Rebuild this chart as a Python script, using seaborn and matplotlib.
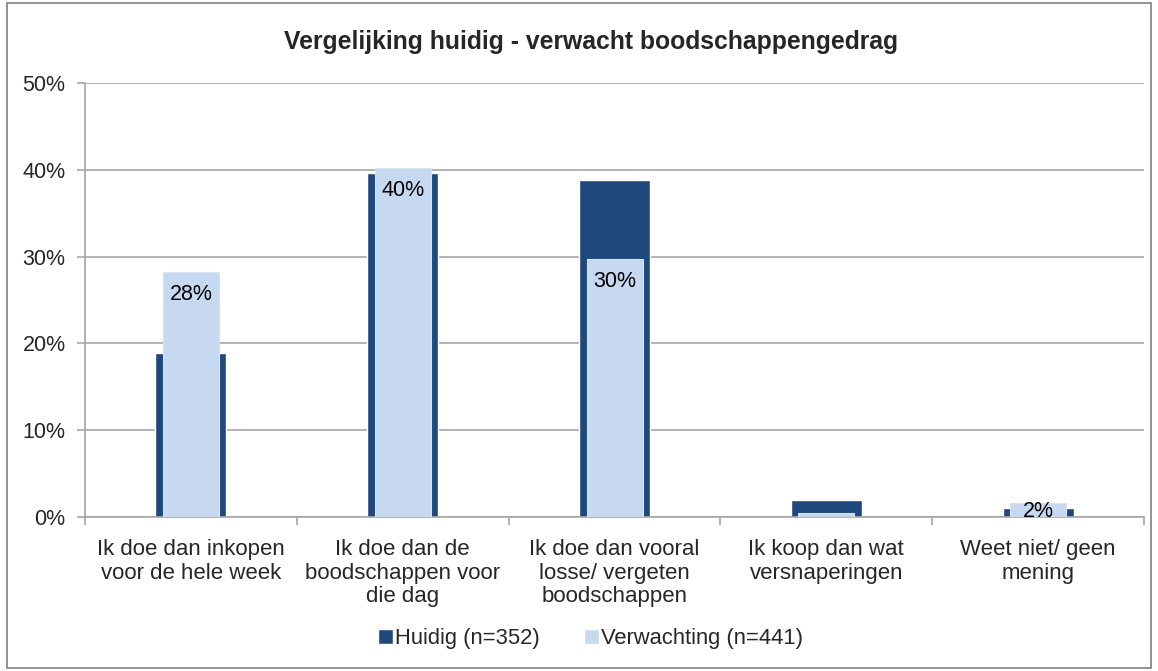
import numpy as np
import pandas as pd
import seaborn as sns
import matplotlib.pyplot as plt
from matplotlib.patches import Patch, Rectangle
from matplotlib.ticker import FuncFormatter, FixedLocator

# data (percent)
categories = [
    "Ik doe dan inkopen\nvoor de hele week",
    "Ik doe dan de\nboodschappen voor\ndie dag",
    "Ik doe dan vooral\nlosse/ vergeten\nboodschappen",
    "Ik koop dan wat\nversnaperingen",
    "Weet niet/ geen\nmening",
]
huidig = [18.9, 39.6, 38.8, 2.0, 1.0]
verwachting = [28.2, 40.2, 29.7, 0.5, 1.6]
labels = ["28%", "40%", "30%", "", "2%"]

dark = "#1F497D"
light = "#C6D9F1"
grid_col = "#A6A6A6"

sns.set_theme(style="white")
plt.rcParams["font.family"] = ["Liberation Sans", "DejaVu Sans"]

fig = plt.figure(figsize=(11.58, 6.71), dpi=100)
ax = fig.add_axes([0.0734, 0.2295, 0.9146, 0.6468])

df = pd.DataFrame({"cat": categories, "huidig": huidig, "verw": verwachting})
sns.barplot(data=df, x="cat", y="huidig", color=dark, width=0.335,
            saturation=1, ax=ax, zorder=2)
sns.barplot(data=df, x="cat", y="verw", color=light, width=0.264,
            saturation=1, ax=ax, zorder=3, edgecolor="#D5E3F5", linewidth=0.8)

for i, (v, lab) in enumerate(zip(verwachting, labels)):
    if lab:
        y = max(v - 2.6, 0.6)
        ax.text(i, y, lab, ha="center", va="center", fontsize=15.5,
                color="black", zorder=4)

ax.set_ylim(0, 50)
ax.set_xlim(-0.5, 4.5)
ax.set_yticks(np.arange(0, 51, 10))
ax.yaxis.set_major_formatter(FuncFormatter(lambda v, p: f"{int(v)}%"))
ax.yaxis.grid(True, color=grid_col, linewidth=1.2, zorder=0)
ax.set_axisbelow(True)
ax.set_xlabel("")
ax.set_ylabel("")

ax.xaxis.set_minor_locator(FixedLocator(np.arange(-0.5, 5, 1)))
ax.tick_params(axis="x", which="major", length=0, pad=16, labelsize=16)
ax.tick_params(axis="x", which="minor", length=6, color=grid_col, width=1.2,
               direction="out", bottom=True)
ax.tick_params(axis="y", length=6, color=grid_col, width=1.2, direction="out",
               left=True, labelsize=15.5, pad=8)
for lab in ax.get_xticklabels():
    lab.set_linespacing(1.15)
    lab.set_va("top")

for s in ["top", "right"]:
    ax.spines[s].set_visible(False)
for s in ["left", "bottom"]:
    ax.spines[s].set_color(grid_col)
    ax.spines[s].set_linewidth(1.2)

fig.text(0.51, 0.937, "Vergelijking huidig - verwacht boodschappengedrag",
         ha="center", va="center", fontsize=17.8, fontweight="bold")

handles = [Patch(facecolor=dark, label="Huidig (n=352)"),
           Patch(facecolor=light, label="Verwachting (n=441)")]
fig.legend(handles=handles, loc="center", bbox_to_anchor=(0.51, 0.048),
           ncol=2, frameon=False, fontsize=15.8, handlelength=0.7,
           handleheight=0.7, handletextpad=0.1, columnspacing=2.0)

fig.patches.append(Rectangle((0.006, 0.004), 0.988, 0.992,
                             transform=fig.transFigure, fill=False,
                             edgecolor="#808080", linewidth=1.2))

fig.savefig("out.png", dpi=100)
